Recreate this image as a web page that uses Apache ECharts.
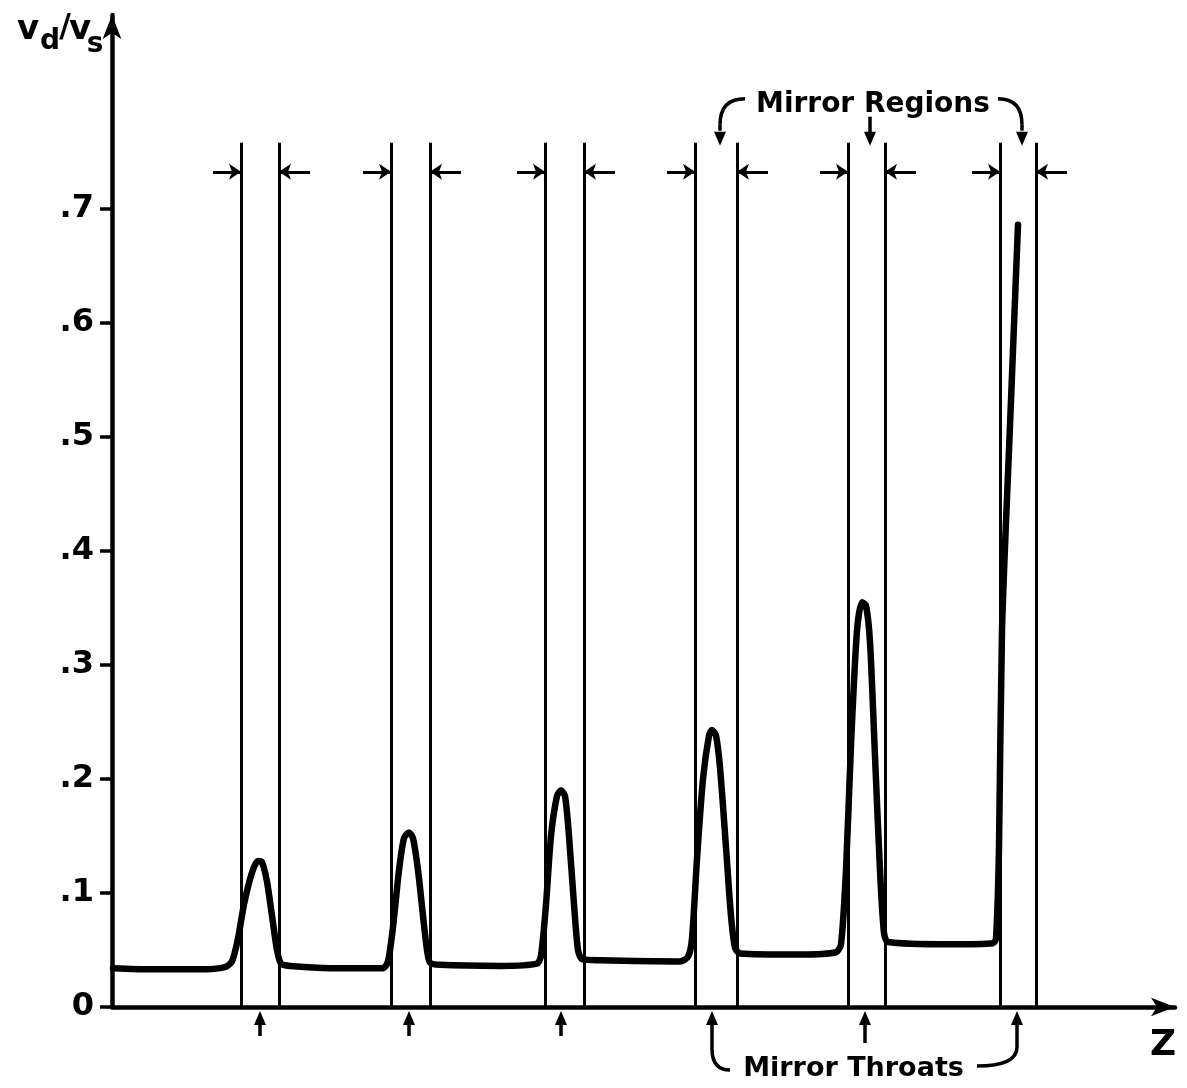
<!DOCTYPE html>
<html>
<head>
<meta charset="utf-8">
<script src="https://cdn.jsdelivr.net/npm/echarts@6/dist/echarts.min.js"></script>
<style>
  html, body { margin: 0; padding: 0; background: #fff; }
  #main { width: 1187px; height: 1088px; }
</style>
</head>
<body>
<div id="main"></div>
<script>
// curve v_d/v_s along z (z in arbitrary units)
const zCurve = [0.1, 3.8, 8.8, 11.3, 12.0, 12.6, 13.2, 14.0, 14.6, 15.0, 15.5, 16.0, 16.5, 16.9, 17.8,
  22.8, 27.1, 27.6, 28.1, 28.7, 29.2, 29.7, 30.1, 30.6, 31.1, 31.5, 31.8, 32.8,
  38.8, 42.5, 42.9, 43.4, 43.9, 44.5, 44.9, 45.3, 45.7, 46.2, 46.6, 47.0, 48.8,
  56.8, 57.6, 58.0, 58.5, 59.1, 59.7, 60.0, 60.4, 60.8, 61.4, 61.9, 62.3, 62.8,
  68.8, 72.4, 72.9, 73.4, 73.9, 74.5, 75.0, 75.4, 75.8, 76.3, 76.8, 77.2, 77.6,
  83.8, 88.1, 88.4, 88.7, 89.0, 89.8, 90.6];
const vCurve = [0.034, 0.033, 0.033, 0.035, 0.040, 0.060, 0.090, 0.118, 0.128, 0.127, 0.110, 0.080, 0.050, 0.038, 0.036,
  0.034, 0.034, 0.040, 0.070, 0.120, 0.148, 0.153, 0.148, 0.120, 0.080, 0.050, 0.039, 0.037,
  0.036, 0.038, 0.045, 0.090, 0.150, 0.185, 0.190, 0.185, 0.150, 0.090, 0.050, 0.042, 0.041,
  0.040, 0.044, 0.060, 0.130, 0.200, 0.238, 0.243, 0.238, 0.210, 0.140, 0.080, 0.052, 0.047,
  0.046, 0.048, 0.055, 0.120, 0.230, 0.330, 0.355, 0.352, 0.320, 0.220, 0.120, 0.065, 0.057,
  0.055, 0.056, 0.060, 0.140, 0.330, 0.510, 0.686];

// mirror regions: left and right edge of each
const regionEdges = [[12.9, 16.7], [27.9, 31.8], [43.3, 47.2], [58.3, 62.5], [73.6, 77.3], [88.8, 92.4]];
// mirror throats
const throats = [14.8, 29.7, 44.9, 60.0, 75.3, 90.5];
const yTicks = [0, 0.1, 0.2, 0.3, 0.4, 0.5, 0.6, 0.7];
const lineTop = 0.758;
const arrowLevel = 0.7325;
const arrowLen = 2.8;

const chart = echarts.init(document.getElementById('main'));

const curveData = zCurve.map((z, i) => [z, vCurve[i]]);

const edgeLines = [];
regionEdges.forEach(pair => {
  pair.forEach(z => {
    edgeLines.push([{ coord: [z, 0] }, { coord: [z, lineTop] }]);
  });
});

const edgeArrows = [];
regionEdges.forEach(pair => {
  edgeArrows.push([{ coord: [pair[0] - arrowLen, arrowLevel], symbol: 'none' }, { coord: [pair[0], arrowLevel], symbol: 'arrow' }]);
  edgeArrows.push([{ coord: [pair[1] + arrowLen + 0.3, arrowLevel], symbol: 'none' }, { coord: [pair[1], arrowLevel], symbol: 'arrow' }]);
});

const FONT = 'DejaVu Sans';

chart.setOption({
  animation: false,
  backgroundColor: '#fff',
  grid: { left: 112, right: 12, top: 15, bottom: 81 },
  xAxis: {
    type: 'value', min: 0, max: 106.3,
    axisLine: { lineStyle: { color: '#000', width: 4.5 }, symbol: ['none', 'arrow'], symbolSize: [14, 24] },
    axisTick: { show: false },
    axisLabel: { show: false },
    splitLine: { show: false }
  },
  yAxis: {
    type: 'value', min: 0, max: 0.87, interval: 0.1,
    axisLine: { show: true, lineStyle: { color: '#000', width: 4.5 }, symbol: ['none', 'arrow'], symbolSize: [14, 24] },
    axisTick: { show: true, length: 12, lineStyle: { color: '#000', width: 3.5 }, customValues: yTicks },
    axisLabel: {
      margin: 18, color: '#000', fontFamily: FONT, fontSize: 32, fontWeight: 'bold',
      customValues: yTicks,
      formatter: v => (v === 0 ? '0' : String(Math.round(v * 10) / 10).replace(/^0/, ''))
    },
    splitLine: { show: false }
  },
  series: [
    {
      type: 'line', data: curveData, symbol: 'none', smooth: 0.25,
      lineStyle: { color: '#000', width: 6.5, join: 'round', cap: 'round' },
      markLine: {
        silent: true, symbol: ['none', 'none'], label: { show: false },
        lineStyle: { color: '#000', width: 3, type: 'solid' },
        data: edgeLines
      }
    },
    {
      type: 'line', data: [], symbol: 'none',
      markLine: {
        silent: true, symbolSize: 12, label: { show: false },
        lineStyle: { color: '#000', width: 3, type: 'solid' },
        data: edgeArrows
      }
    }
  ]
});

// annotations, placed from the axis scales
function px(z, v) { return chart.convertToPixel({ gridIndex: 0 }, [z, v]); }
const baseY = px(0, 0)[1];
const stroke = { stroke: '#000', lineWidth: 3.5, fill: null };

function line(x1, y1, x2, y2) {
  return { type: 'line', shape: { x1, y1, x2, y2 }, style: stroke };
}
function head(x, y, dir) {
  const d = dir === 'up' ? 1 : -1;
  return { type: 'polygon', shape: { points: [[x, y], [x - 6, y + d * 14], [x + 6, y + d * 14]] }, style: { fill: '#000' } };
}
function curve(x1, y1, cx, cy, x2, y2) {
  return { type: 'bezierCurve', shape: { x1, y1, x2, y2, cpx1: cx, cpy1: cy }, style: stroke };
}
function text(str, x, y, size, align) {
  return { type: 'text', x, y, style: { text: str, fill: '#000', font: 'bold ' + size + 'px "' + FONT + '"', textAlign: align || 'left', textVerticalAlign: 'middle' } };
}

const g = [];
const tx = throats.map(z => px(z, 0)[0]);

// throat arrows
tx.forEach((x, i) => {
  if (i < 3) {
    g.push(line(x, baseY + 29, x, baseY + 12));
    g.push(head(x, baseY + 4, 'up'));
  }
});
// Mirror Throats label with brackets
g.push(line(tx[3], baseY + 12, tx[3], baseY + 42));
g.push(head(tx[3], baseY + 4, 'up'));
g.push(curve(tx[3], baseY + 42, tx[3], baseY + 63, tx[3] + 18, baseY + 63));
g.push(line(tx[4], baseY + 12, tx[4], baseY + 36));
g.push(head(tx[4], baseY + 4, 'up'));
g.push(line(tx[5], baseY + 12, tx[5], baseY + 40));
g.push(head(tx[5], baseY + 4, 'up'));
g.push(curve(tx[5], baseY + 40, tx[5], baseY + 59, tx[5] - 40, baseY + 59));
g.push(text('Mirror Throats', (tx[3] + 18 + tx[5] - 40) / 2, baseY + 62, 27, 'center'));

// Mirror Regions label with brackets
const topY = px(0, lineTop)[1];
const rx = [tx[3] + 8, tx[4] + 5, tx[5] + 5];
g.push(text('Mirror Regions', (rx[0] + rx[2]) / 2 + 2, topY - 38, 28, 'center'));
g.push(curve(rx[0] + 25, topY - 44, rx[0], topY - 44, rx[0], topY - 18));
g.push(line(rx[0], topY - 18, rx[0], topY - 12));
g.push(head(rx[0], topY + 3, 'down'));
g.push(line(rx[1], topY - 26, rx[1], topY - 10));
g.push(head(rx[1], topY + 3, 'down'));
g.push(curve(rx[2] - 24, topY - 44, rx[2], topY - 44, rx[2], topY - 18));
g.push(line(rx[2], topY - 18, rx[2], topY - 12));
g.push(head(rx[2], topY + 3, 'down'));

// axis names
g.push(text('Z', 1163, 1046, 36, 'center'));
g.push(text('v', 28, 30, 34, 'center'));
g.push(text('d', 50, 42, 28, 'center'));
g.push(text('/', 65, 28, 32, 'center'));
g.push(text('v', 80, 30, 34, 'center'));
g.push(text('s', 95, 45, 28, 'center'));

chart.setOption({ graphic: g });
</script>
</body>
</html>
